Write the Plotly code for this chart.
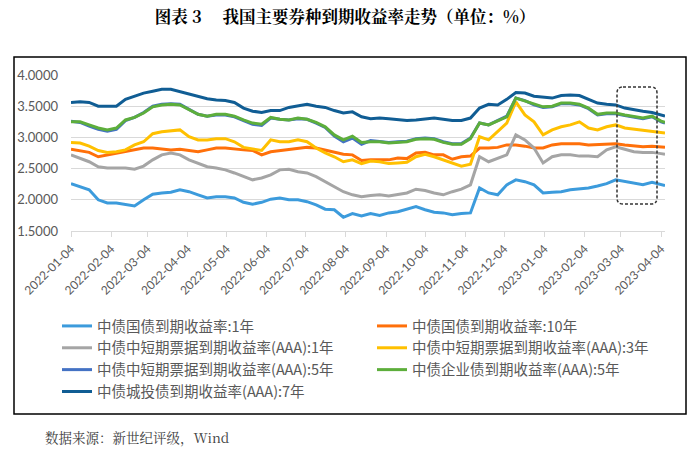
import pandas as pd
import plotly.graph_objects as go

# ---- data (weekly readings, 2022-01-04 .. 2023-04-07) ----
dates = list(pd.date_range("2022-01-04", periods=66, freq="7D").strftime("%Y-%m-%d")) + ["2023-04-07"]

gov_1y = [2.26, 2.21, 2.16, 2.00, 1.95, 1.95, 1.93, 1.90, 2.00, 2.09, 2.11, 2.12, 2.16, 2.13, 2.08, 2.03,
          2.05, 2.05, 2.03, 1.96, 1.93, 1.96, 2.01, 2.03, 2.00, 2.00, 1.97, 1.92, 1.85, 1.84, 1.72, 1.78,
          1.74, 1.78, 1.75, 1.79, 1.81, 1.85, 1.89, 1.84, 1.80, 1.79, 1.76, 1.78, 1.79, 2.19, 2.11, 2.08,
          2.24, 2.32, 2.29, 2.24, 2.11, 2.12, 2.13, 2.16, 2.17, 2.19, 2.22, 2.26, 2.32, 2.29, 2.26, 2.24,
          2.28, 2.24, 2.23]
gov_10y = [2.81, 2.79, 2.76, 2.69, 2.72, 2.74, 2.77, 2.80, 2.83, 2.83, 2.81, 2.80, 2.81, 2.79, 2.77, 2.80,
           2.83, 2.83, 2.81, 2.80, 2.79, 2.72, 2.77, 2.79, 2.80, 2.83, 2.84, 2.83, 2.80, 2.77, 2.73, 2.72,
           2.63, 2.64, 2.64, 2.64, 2.67, 2.66, 2.75, 2.76, 2.72, 2.72, 2.65, 2.69, 2.70, 2.83, 2.83, 2.84,
           2.88, 2.88, 2.86, 2.83, 2.83, 2.88, 2.90, 2.90, 2.90, 2.88, 2.89, 2.90, 2.90, 2.88, 2.86, 2.85,
           2.86, 2.85, 2.84]
mtn_1y = [2.72, 2.67, 2.61, 2.53, 2.51, 2.51, 2.51, 2.49, 2.54, 2.64, 2.72, 2.75, 2.72, 2.64, 2.59, 2.53,
          2.51, 2.48, 2.43, 2.37, 2.32, 2.35, 2.40, 2.48, 2.49, 2.45, 2.43, 2.37, 2.29, 2.22, 2.13, 2.08,
          2.05, 2.07, 2.08, 2.06, 2.08, 2.11, 2.17, 2.15, 2.11, 2.08, 2.13, 2.17, 2.24, 2.69, 2.61, 2.67,
          2.72, 3.04, 2.96, 2.83, 2.59, 2.69, 2.72, 2.72, 2.70, 2.70, 2.69, 2.80, 2.85, 2.81, 2.77, 2.76,
          2.76, 2.74, 2.73]
mtn_3y = [2.92, 2.91, 2.86, 2.79, 2.76, 2.77, 2.80, 2.88, 2.93, 3.06, 3.09, 3.10, 3.12, 3.01, 2.96, 2.96,
          2.98, 2.98, 2.93, 2.84, 2.81, 2.79, 2.96, 2.93, 2.93, 2.96, 2.93, 2.83, 2.75, 2.69, 2.61, 2.64,
          2.58, 2.62, 2.61, 2.58, 2.59, 2.60, 2.69, 2.73, 2.69, 2.64, 2.59, 2.54, 2.57, 3.01, 2.96, 3.09,
          3.23, 3.57, 3.36, 3.25, 3.04, 3.12, 3.17, 3.20, 3.25, 3.15, 3.12, 3.17, 3.20, 3.15, 3.13, 3.12,
          3.10, 3.07, 3.07]
mtn_5y = [3.26, 3.24, 3.18, 3.13, 3.10, 3.13, 3.27, 3.32, 3.40, 3.50, 3.53, 3.54, 3.53, 3.45, 3.37, 3.34,
          3.36, 3.36, 3.33, 3.27, 3.21, 3.19, 3.31, 3.29, 3.28, 3.30, 3.29, 3.23, 3.16, 3.02, 2.93, 2.99,
          2.89, 2.95, 2.94, 2.92, 2.93, 2.94, 2.98, 2.99, 2.98, 2.93, 2.90, 2.90, 2.99, 3.23, 3.20, 3.27,
          3.34, 3.63, 3.59, 3.52, 3.48, 3.49, 3.54, 3.54, 3.52, 3.46, 3.36, 3.38, 3.38, 3.35, 3.32, 3.30,
          3.33, 3.25, 3.23]
corp_5y = [3.25, 3.25, 3.20, 3.15, 3.12, 3.15, 3.28, 3.32, 3.39, 3.49, 3.52, 3.53, 3.52, 3.44, 3.37, 3.34,
           3.37, 3.37, 3.34, 3.28, 3.23, 3.21, 3.32, 3.29, 3.28, 3.31, 3.29, 3.24, 3.17, 3.04, 2.96, 3.02,
           2.92, 2.93, 2.93, 2.91, 2.92, 2.93, 2.97, 2.98, 2.97, 2.92, 2.89, 2.89, 2.98, 3.23, 3.20, 3.27,
           3.33, 3.63, 3.58, 3.53, 3.49, 3.50, 3.55, 3.55, 3.53, 3.47, 3.37, 3.39, 3.39, 3.36, 3.33, 3.31,
           3.34, 3.26, 3.24]
lgfv_7y = [3.56, 3.57, 3.56, 3.50, 3.50, 3.50, 3.61, 3.66, 3.71, 3.74, 3.77, 3.77, 3.73, 3.69, 3.65, 3.62,
           3.60, 3.59, 3.56, 3.47, 3.42, 3.40, 3.43, 3.43, 3.48, 3.51, 3.53, 3.50, 3.48, 3.43, 3.39, 3.41,
           3.33, 3.30, 3.31, 3.30, 3.28, 3.27, 3.28, 3.30, 3.31, 3.29, 3.27, 3.27, 3.31, 3.47, 3.53, 3.52,
           3.61, 3.72, 3.71, 3.66, 3.64, 3.63, 3.67, 3.68, 3.67, 3.61, 3.55, 3.53, 3.52, 3.47, 3.44, 3.42,
           3.40, 3.36, 3.34]

series_names = [
    "中债国债到期收益率:1年",
    "中债国债到期收益率:10年",
    "中债中短期票据到期收益率(AAA):1年",
    "中债中短期票据到期收益率(AAA):3年",
    "中债中短期票据到期收益率(AAA):5年",
    "中债企业债到期收益率(AAA):5年",
    "中债城投债到期收益率(AAA):7年",
]
series_values = [gov_1y, gov_10y, mtn_1y, mtn_3y, mtn_5y, corp_5y, lgfv_7y]
series_colors = ["#3C9BDC", "#FF700A", "#A5A5A5", "#FFC000", "#4472C4", "#5DAE3B", "#105D94"]

tick_dates = ["2022-01-04", "2022-02-04", "2022-03-04", "2022-04-04", "2022-05-04", "2022-06-04",
              "2022-07-04", "2022-08-04", "2022-09-04", "2022-10-04", "2022-11-04", "2022-12-04",
              "2023-01-04", "2023-02-04", "2023-03-04", "2023-04-04"]

title_text = "<b>图表 3　 我国主要券种到期收益率走势（单位：%）</b>"
source_text = "数据来源：新世纪评级，Wind"

# ---- figure ----
W, H = 700, 453
L, R, T, B = 71, 35, 75, 222
pw, ph = W - L - R, H - T - B

def px_x(x):
    return (x - L) / pw

def px_y(y):
    return (H - B - y) / ph

fig = go.Figure()
for name, vals, col in zip(series_names, series_values, series_colors):
    fig.add_trace(go.Scatter(x=dates, y=vals, mode="lines", name=name,
                             line=dict(color=col, width=3)))

# rounded dashed highlight box
x0, x1 = px_x(617), px_x(657)
y0, y1 = px_y(204), px_y(87)
rx, ry = 6 / pw, 6 / ph
path = (f"M{x0+rx},{y1} L{x1-rx},{y1} Q{x1},{y1} {x1},{y1-ry} L{x1},{y0+ry} "
        f"Q{x1},{y0} {x1-rx},{y0} L{x0+rx},{y0} Q{x0},{y0} {x0},{y0+ry} "
        f"L{x0},{y1-ry} Q{x0},{y1} {x0+rx},{y1} Z")

fig.update_layout(
    width=W, height=H,
    margin=dict(l=L, r=R, t=T, b=B, autoexpand=False),
    paper_bgcolor="white", plot_bgcolor="white",
    title=dict(text=title_text, x=0.493, xref="container", xanchor="center",
               y=1 - 17 / H, yref="container", yanchor="middle",
               font=dict(family="Noto Serif CJK SC, Noto Sans CJK SC, serif", size=16.5, color="#000000")),
    xaxis=dict(type="date", range=["2022-01-04", "2023-04-07"],
               tickvals=tick_dates, ticktext=tick_dates, tickangle=-45,
               showgrid=False, zeroline=False,
               showline=True, linecolor="#D9D9D9", linewidth=1.3,
               ticks="outside", ticklen=5, tickcolor="#D9D9D9", tickwidth=1.3,
               tickfont=dict(family="Lato, Carlito, sans-serif", size=12, color="#595959")),
    yaxis=dict(range=[1.5, 4.0], dtick=0.5, tick0=1.5, tickformat=".4f",
               showgrid=True, gridcolor="#D9D9D9", gridwidth=1.3,
               zeroline=False, showline=False, ticks="", ticklabelstandoff=12,
               tickfont=dict(family="Lato, Carlito, sans-serif", size=13, color="#595959")),
    legend=dict(orientation="h", xref="paper", x=px_x(57), xanchor="left",
                yref="paper", y=px_y(310), yanchor="top",
                entrywidth=270, entrywidthmode="pixels", itemwidth=30,
                bgcolor="rgba(0,0,0,0)",
                font=dict(family="Noto Sans CJK SC, sans-serif", size=14.5, color="#595959")),
    showlegend=True,
    shapes=[
        dict(type="rect", xref="paper", yref="paper",
             x0=px_x(14), x1=px_x(686), y0=px_y(414), y1=px_y(57),
             line=dict(color="#000000", width=1.5), layer="above"),
        dict(type="path", xref="paper", yref="paper", path=path,
             line=dict(color="#333333", width=1.5, dash="3px,2px"), layer="above"),
    ],
    annotations=[
        dict(text=source_text, xref="paper", yref="paper", x=px_x(43), y=px_y(437),
             xanchor="left", yanchor="middle", showarrow=False,
             font=dict(family="Noto Serif CJK SC, Noto Sans CJK SC, serif", size=13.5, color="#404040")),
    ],
)

fig.write_html("out.html", config={"displayModeBar": False},
               post_script="document.body.style.margin='0px';document.body.style.overflow='hidden';")
